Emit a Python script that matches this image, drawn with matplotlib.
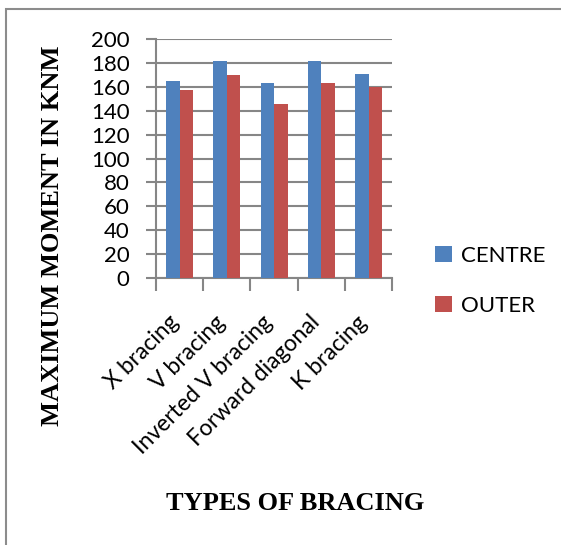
import matplotlib
matplotlib.use("Agg")
import matplotlib.pyplot as plt
from matplotlib.patches import Rectangle, Patch
from matplotlib.transforms import ScaledTranslation
import numpy as np

categories = ["X bracing", "V bracing", "Inverted V bracing", "Forward diagonal", "K bracing"]
centre = [165, 182, 163, 182, 171]
outer = [157, 170, 146, 163, 160]
series_names = ["CENTRE", "OUTER"]
y_ticks = [0, 20, 40, 60, 80, 100, 120, 140, 160, 180, 200]

BLUE = "#4F81BD"
RED = "#C0504D"
GRID = "#868686"
SANS = ["Lato", "DejaVu Sans"]
SERIF = ["Liberation Serif", "DejaVu Serif"]

fig = plt.figure(figsize=(5.61, 5.45), dpi=100)
ax = fig.add_axes([0.278, 0.4899, 0.421, 0.4385])

x = np.arange(len(categories))
w = 0.286
ax.bar(x - w / 2, centre, width=w, color=BLUE, zorder=3)
ax.bar(x + w / 2, outer, width=w, color=RED, zorder=3)

ax.set_xlim(-0.5, len(categories) - 0.5)
ax.set_ylim(0, 200)
ax.set_yticks(y_ticks)
ax.set_yticklabels([str(v) for v in y_ticks], fontsize=16, family=SANS)
ax.yaxis.grid(True, color=GRID, linewidth=1.5, zorder=0)
ax.tick_params(axis="y", length=7, width=1.5, color=GRID, pad=12)

# category boundaries carry the tick marks, names sit at the centres
ax.set_xticks(np.arange(-0.5, len(categories), 1.0))
ax.set_xticklabels([])
ax.tick_params(axis="x", which="major", length=9, width=1.5, color=GRID)
ax.set_xticks(x, minor=True)
ax.set_xticklabels(categories, minor=True, rotation=45, ha="right",
                   rotation_mode="anchor", fontsize=16.5, family=SANS)
ax.tick_params(axis="x", which="minor", length=0, pad=22)
shift = ScaledTranslation(-0.12, -0.03, fig.dpi_scale_trans)
for lbl in ax.get_xticklabels(minor=True):
    lbl.set_transform(lbl.get_transform() + shift)

for side in ["top", "right"]:
    ax.spines[side].set_visible(False)
for side in ["left", "bottom"]:
    ax.spines[side].set_color(GRID)
    ax.spines[side].set_linewidth(1.5)

fig.text(0.093, 0.567, "MAXIMUM MOMENT IN KNM", rotation=90, ha="center", va="center",
         fontsize=19, fontweight="bold", family=SERIF)
fig.text(0.526, 0.077, "TYPES OF BRACING", ha="center", va="center",
         fontsize=19, fontweight="bold", family=SERIF)

handles = [Patch(facecolor=BLUE), Patch(facecolor=RED)]
fig.legend(handles, series_names, loc="center left", bbox_to_anchor=(0.76, 0.485),
           frameon=False, prop={"family": SANS, "size": 16}, handlelength=0.75,
           handleheight=0.75, handletextpad=0.4, labelspacing=1.35, borderaxespad=0)

fig.add_artist(Rectangle((6 / 561, -0.1), 1.2, 1.1 - 9.5 / 545, transform=fig.transFigure,
                         fill=False, edgecolor="#8c8c8c", linewidth=1.5))

fig.savefig("out.png", dpi=100)
